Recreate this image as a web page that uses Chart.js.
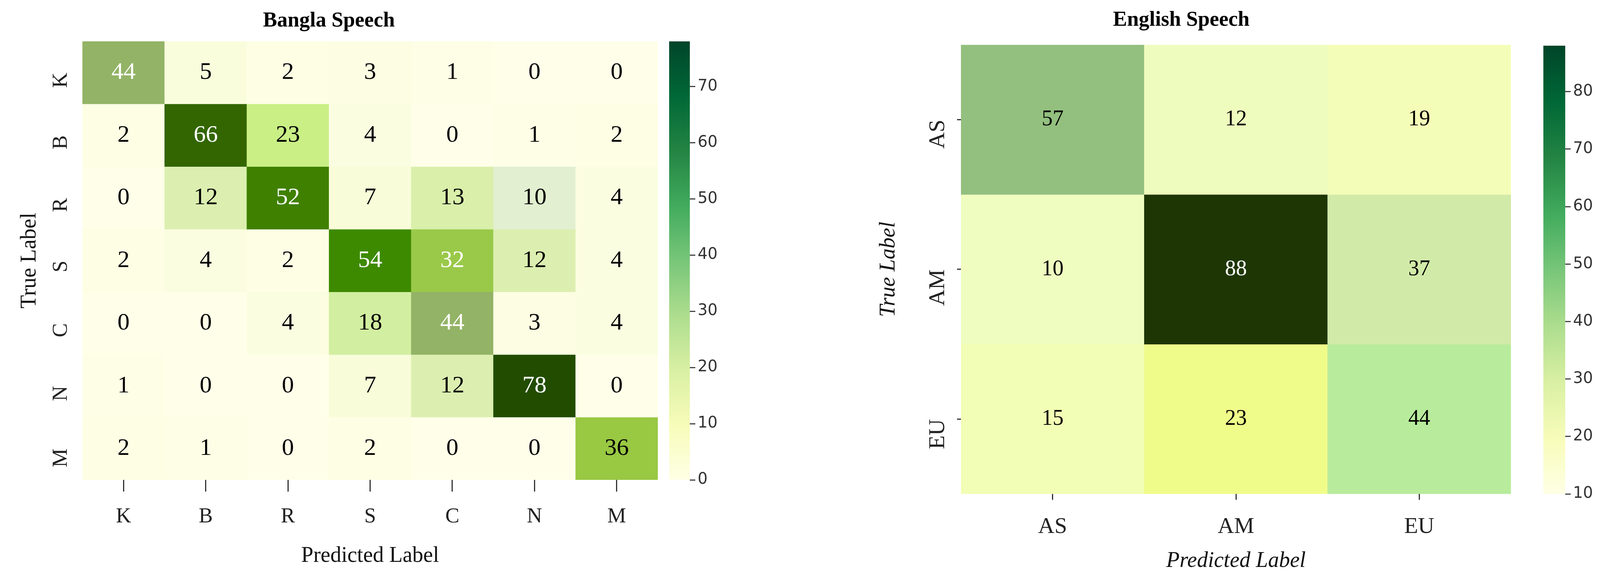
<!DOCTYPE html>
<html><head><meta charset="utf-8">
<script src="https://cdn.jsdelivr.net/npm/chart.js@4.4.1/dist/chart.umd.min.js"></script>
<style>
html,body{margin:0;padding:0;background:#fff;width:4144px;height:1488px;overflow:hidden;}
canvas{position:absolute;}
</style></head><body>
<canvas id="c1"></canvas><canvas id="b1"></canvas>
<canvas id="c2"></canvas><canvas id="b2"></canvas>
<script>
// ---- data ----
const banglaLabels = ['K','B','R','S','C','N','M'];
const banglaValues = [
  [44,5,2,3,1,0,0],
  [2,66,23,4,0,1,2],
  [0,12,52,7,13,10,4],
  [2,4,2,54,32,12,4],
  [0,0,4,18,44,3,4],
  [1,0,0,7,12,78,0],
  [2,1,0,2,0,0,36]
];
const banglaTicks = [0,10,20,30,40,50,60,70];
const englishLabels = ['AS','AM','EU'];
const englishValues = [
  [57,12,19],
  [10,88,37],
  [15,23,44]
];
const englishTicks = [10,20,30,40,50,60,70,80];

// ---- styles ----
const banglaCellColors = {0:'#ffffe9',1:'#fefee6',2:'#fdfee4',3:'#fcfde2',4:'#fbfde0',5:'#fafddc',7:'#f8fcd8',10:'#e2efd0',12:'#dcefb0',13:'#d9efaa',18:'#d2eea0',23:'#c9ef85',32:'#9ac94a',36:'#99c843',44:'#93b366',52:'#3f8000',54:'#3d8a00',66:'#336600',78:'#224d00'};
const englishCellColors = {10:'#f0fdc0',12:'#eefdbd',15:'#f2fdb5',19:'#f4fdb8',23:'#f0fc8a',37:'#d2eaa8',44:'#b8ec9c',57:'#93bf7f',88:'#1e3604'};
const barStops = [[0,'#ffffe5'],[0.125,'#f7fcb9'],[0.25,'#d9f0a3'],[0.375,'#addd8e'],[0.5,'#78c679'],[0.625,'#41ab5d'],[0.75,'#238443'],[0.875,'#006837'],[1,'#004529']];
const serif = "'Liberation Serif','DejaVu Serif',serif";

function heatmap(id, pos, labels, values, colors, whiteTest, cfg){
  const el = document.getElementById(id);
  el.style.left = pos.left+'px'; el.style.top='0px';
  el.width = pos.width; el.height = 1488;
  el.style.width = pos.width+'px'; el.style.height='1488px';
  const n = labels.length;
  const datasets = values.map((row,r)=>({
    data: row.map(v=>[r,r+1]),
    backgroundColor: row.map(v=>colors[v]),
    borderWidth:0, barPercentage:1, categoryPercentage:1, grouped:false
  }));
  const textPlugin = {id:'txt', afterDatasetsDraw(chart){
    const ctx = chart.ctx; ctx.save();
    ctx.font = cfg.cellFont; ctx.textAlign='center'; ctx.textBaseline='middle';
    values.forEach((row,r)=>{
      const meta = chart.getDatasetMeta(r);
      row.forEach((v,c)=>{
        const e = meta.data[c];
        ctx.fillStyle = whiteTest(v) ? '#ffffff' : '#000000';
        ctx.fillText(String(v), e.x, (e.y+e.base)/2);
      });
    });
    ctx.restore();
  }};
  return new Chart(el, {
    type:'bar',
    data:{labels: labels, datasets},
    options:{
      responsive:false, animation:false, devicePixelRatio:1,
      layout:{padding:{left:0,right:0,top:0,bottom:0}},
      plugins:{legend:{display:false}, tooltip:{enabled:false},
        title:{display:true, text:cfg.title, color:'#000',
          font:{family:serif, size:54, weight:'bold', lineHeight:1.2},
          padding:{top:cfg.titleTop, bottom:cfg.titleBottom}}},
      scales:{
        x:{ type:'category', offset:true,
          grid:{display:true, offset:false, drawOnChartArea:false, drawTicks:true, tickLength:cfg.xTickLen, tickColor:'#333', tickWidth:3, color:'rgba(0,0,0,0)'},
          border:{display:false},
          ticks:{color:'#222', font:{family:serif, size:cfg.tickSize}, padding:cfg.xTickPad, maxRotation:0, minRotation:0},
          title:{display:true, text:'Predicted Label', color:'#111', font:{family:serif, size:56, style:cfg.italic?'italic':'normal'}, padding:{top:0,bottom:cfg.xTitleBottom}},
          afterFit(s){ s.height = 1488 - pos.bottom; }
        },
        y:{ type:'linear', min:0, max:n, reverse:true,
          afterBuildTicks(s){ s.ticks = labels.map((l,i)=>({value:i+0.5})); },
          grid:{display:true, drawOnChartArea:false, drawTicks:true, tickLength:cfg.yTickLen, tickColor:cfg.yTickColor, tickWidth:3, color:'rgba(0,0,0,0)'},
          border:{display:false},
          ticks:{color:'#222', font:{family:serif, size:cfg.tickSize}, padding:cfg.yTickPad, minRotation:90, maxRotation:90,
            callback:(v)=>labels[Math.floor(v)]},
          title:{display:true, text:'True Label', color:'#111', font:{family:serif, size:56, style:cfg.italic?'italic':'normal'}, padding:{top:cfg.yTitleTop,bottom:0}},
          afterFit(s){ s.width = pos.areaLeft - pos.left; }
        }
      }
    },
    plugins:[textPlugin]
  });
}

function colorbar(id, left, top, bottom, barW, min, max, ticks){
  const el = document.getElementById(id);
  const w = barW + 150;
  el.style.left = left+'px'; el.style.top='0px';
  el.width = w; el.height = 1488; el.style.width=w+'px'; el.style.height='1488px';
  return new Chart(el, {
    type:'bar',
    data:{labels:['v'], datasets:[{data:[[min,max]], borderWidth:0, barPercentage:1, categoryPercentage:1,
      backgroundColor(ctx){
        const a = ctx.chart.chartArea; if(!a) return '#ccc';
        const g = ctx.chart.ctx.createLinearGradient(0,a.bottom,0,a.top);
        barStops.forEach(s=>g.addColorStop(s[0],s[1])); return g;
      }}]},
    options:{responsive:false, animation:false, devicePixelRatio:1,
      layout:{padding:{left:0,right:0,top:top,bottom:1488-bottom}},
      plugins:{legend:{display:false},tooltip:{enabled:false},title:{display:false}},
      scales:{
        x:{display:false},
        y:{position:'right', min:min, max:max,
          afterBuildTicks(s){ s.ticks = ticks.map(v=>({value:v})); },
          grid:{drawOnChartArea:false, tickLength:14, tickColor:'#444', tickWidth:3},
          border:{display:false},
          ticks:{color:'#333', font:{family:"'DejaVu Sans',sans-serif", size:40}, padding:6},
          afterFit(s){ s.width = w - barW; }
        }
      }
    }
  });
}

heatmap('c1', {left:0, width:1684, areaLeft:211, bottom:1229}, banglaLabels, banglaValues, banglaCellColors,
  v=> v>=32 && v!==36,
  {title:'Bangla Speech', titleTop:22, titleBottom:19, cellFont:"62px "+serif, tickSize:54,
   xTickLen:30, xTickPad:32, xTitleBottom:30, yTickLen:6, yTickColor:'rgba(0,0,0,0)', yTickPad:48, yTitleTop:43, italic:false});
colorbar('b1', 1713, 106, 1229, 53, 0, 78, banglaTicks);

heatmap('c2', {left:2180, width:3868-2180, areaLeft:2460, bottom:1265}, englishLabels, englishValues, englishCellColors,
  v=> v>=80,
  {title:'English Speech', titleTop:20, titleBottom:30, cellFont:"56px "+serif, tickSize:58,
   xTickLen:15, xTickPad:35, xTitleBottom:17, yTickLen:10, yTickColor:'#333', yTickPad:48, yTitleTop:62, italic:true});
colorbar('b2', 3951, 117, 1265, 56, 10, 88, englishTicks);
</script>
</body></html>
